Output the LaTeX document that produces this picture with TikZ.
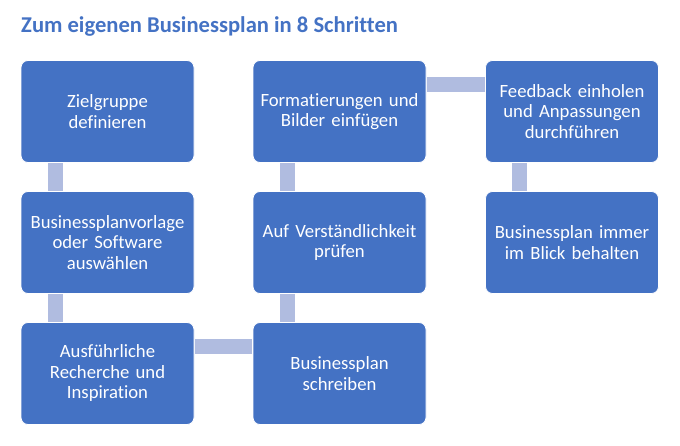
\documentclass[tikz,border=0pt]{standalone}
\usepackage{fontspec}
\setmainfont[Ligatures={NoCommon}]{Carlito}
\definecolor{boxblue}{HTML}{4472C4}
\definecolor{barblue}{HTML}{B0BCE0}
\definecolor{titleblue}{HTML}{4472C4}
\tikzset{
  stepbox/.style={rectangle, rounded corners=7pt, fill=boxblue, draw=white, line width=0.8pt,
    minimum width=173pt, minimum height=102pt, text width=165pt, align=center, text=white,
    font=\fontsize{18.7pt}{20.5pt}\selectfont, inner sep=0pt},
  bar/.style={draw=barblue, line width=15pt}
}
\begin{document}
\begin{tikzpicture}[x=1pt,y=-1pt]
\useasboundingbox (0,0) rectangle (680,445);
\node[anchor=base west, text=titleblue, font=\fontsize{22.6pt}{26pt}\selectfont\bfseries, inner sep=0pt] (title) at (21,32) {Zum eigenen Businessplan in 8 Schritten};

\node[stepbox] (s1) at (107.5,111.5) {Zielgruppe\\definieren};
\node[stepbox] (s2) at (107.5,242.5) {Businessplanvorlage\\oder Software\\auswählen};
\node[stepbox] (s3) at (107.5,373.5) {Ausführliche\\Recherche und\\Inspiration};
\node[stepbox] (s4) at (339.5,373.5) {Businessplan\\schreiben};
\node[stepbox] (s5) at (339.5,242.5) {Auf Verständlichkeit\\prüfen};
\node[stepbox] (s6) at (339.5,111.5) {Formatierungen und\\Bilder einfügen};
\node[stepbox] (s7) at (572,111.5) {Feedback einholen\\und Anpassungen\\durchführen};
\node[stepbox] (s8) at (572,242.5) {Businessplan immer\\im Blick behalten};

\draw[bar] ([xshift=34.5pt,yshift=-0.5pt]s1.south west) -- ([xshift=34.5pt,yshift=0.5pt]s2.north west);
\draw[bar] ([xshift=34.5pt,yshift=-0.5pt]s2.south west) -- ([xshift=34.5pt,yshift=0.5pt]s3.north west);
\draw[bar] ([yshift=-24.5pt,xshift=0.5pt]s3.north east) -- ([yshift=-24.5pt,xshift=-0.5pt]s4.north west);
\draw[bar] ([xshift=34.5pt,yshift=0.5pt]s4.north west) -- ([xshift=34.5pt,yshift=-0.5pt]s5.south west);
\draw[bar] ([xshift=34.5pt,yshift=0.5pt]s5.north west) -- ([xshift=34.5pt,yshift=-0.5pt]s6.south west);
\draw[bar] ([yshift=-24.5pt,xshift=0.5pt]s6.north east) -- ([yshift=-24.5pt,xshift=-0.5pt]s7.north west);
\draw[bar] ([xshift=34.5pt,yshift=-0.5pt]s7.south west) -- ([xshift=34.5pt,yshift=0.5pt]s8.north west);
\end{tikzpicture}
\end{document}
